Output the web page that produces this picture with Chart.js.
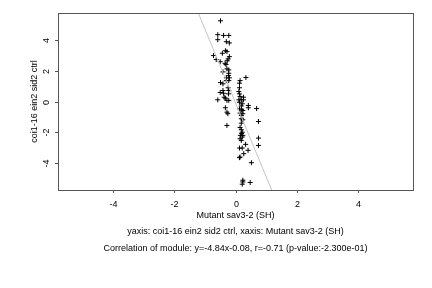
<!DOCTYPE html>
<html>
<head>
<meta charset="utf-8">
<script src="https://cdn.jsdelivr.net/npm/chart.js@4"></script>
<style>
  html, body { margin: 0; padding: 0; background: #fff; }
  #wrap { width: 432px; height: 288px; }
</style>
</head>
<body>
<div id="wrap"><canvas id="chart" width="432" height="288"></canvas></div>
<script>
// 점 데이터
var xValues = [-0.49, -0.58, -0.39, -0.22, -0.58, -0.30, -0.20, -0.33, -0.28, -0.43,
  -0.20, -0.24, -0.72, -0.63, -0.50, -0.34, -0.31, -0.28, -0.22, -0.41,
  -0.22, -0.23, -0.20, -0.30, -0.30, -0.22, -0.49, -0.41, 0.15, 0.13,
  0.34, -0.41, -0.39, -0.24, -0.22, -0.23, 0.13, -0.50, -0.37, -0.33,
  0.13, 0.15, 0.26, 0.11, 0.19, 0.26, -0.58, -0.28, -0.22, 0.13,
  0.22, -0.33, -0.28, -0.25, 0.13, 0.20, 0.24, 0.15, 0.24, 0.19,
  0.42, 0.42, 0.69, 0.75, 0.19, 0.24, 0.19, -0.28, 0.19, 0.22,
  0.16, 0.24, 0.22, 0.15, 0.19, 0.75, 0.75, 0.33, 0.13, 0.22,
  0.41, 0.27, 0.15, 0.13, 0.52, 0.24, 0.24, 0.22, 0.48, -0.27,
  0.11, 0.19, 0.15, 0.20];
var yValues = [5.29, 4.38, 4.33, 4.33, 4.05, 3.92, 3.84, 3.33, 3.27, 3.16,
  2.94, 2.79, 3.01, 2.75, 2.61, 2.50, 2.42, 2.14, 2.07, 1.94,
  1.85, 1.70, 1.55, 1.55, 1.37, 1.37, 1.24, 1.16, 1.37, 1.20,
  1.57, 0.72, 0.54, 0.90, 0.72, 0.50, 0.90, 0.59, 0.28, 0.22,
  0.50, 0.33, 0.28, 0.11, 0.11, 0.11, 0.11, 0.07, 0.07, -0.05,
  -0.15, -0.41, -0.70, -0.80, -0.48, -0.54, -0.59, -0.76, -0.80, -0.92,
  -0.26, -0.41, -0.46, -1.31, -1.13, -1.20, -1.42, -1.57, -1.85, -2.01,
  -2.22, -2.22, -2.33, -2.44, -2.55, -2.40, -2.88, -2.81, -3.05, -3.05,
  -3.20, -3.42, -3.64, -3.68, -4.01, -5.16, -5.27, -5.42, -5.31, 2.67,
  0.65, -0.29, -1.70, -2.09];

var xTicks = [-4, -2, 0, 2, 4];
var yTicks = [-4, -2, 0, 2, 4];
var axisMin = -5.8, axisMax = 5.8;

var slope = -4.84, intercept = -0.08;

var xTitle = 'Mutant sav3-2 (SH)';
var yTitle = 'coi1-16 ein2 sid2 ctrl';
var subTitle1 = 'yaxis: coi1-16 ein2 sid2 ctrl, xaxis: Mutant sav3-2 (SH)';
var subTitle2 = 'Correlation of module: y=-4.84x-0.08, r=-0.71 (p-value:-2.300e-01)';

var points = [];
for (var i = 0; i < xValues.length; i++) {
  points.push({ x: xValues[i], y: yValues[i] });
}
// 회귀선 양 끝
var lineX1 = (axisMax - intercept) / slope;
var lineX2 = (axisMin - intercept) / slope;
var fitLine = [
  { x: lineX1 - 0.1, y: slope * (lineX1 - 0.1) + intercept },
  { x: lineX2 + 0.1, y: slope * (lineX2 + 0.1) + intercept }
];

var FONT = '9px "Liberation Sans", Arial, sans-serif';

var decorPlugin = {
  id: 'decor',
  afterDraw: function(chart) {
    var ctx = chart.ctx;
    var a = chart.chartArea;
    var xs = chart.scales.x, ys = chart.scales.y;
    ctx.save();
    // 박스
    ctx.strokeStyle = '#555';
    ctx.lineWidth = 1;
    ctx.strokeRect(Math.round(a.left) + 0.5, Math.round(a.top) + 0.5,
      Math.round(a.right - a.left), Math.round(a.bottom - a.top));
    ctx.fillStyle = '#000';
    ctx.font = FONT;
    // x축 눈금
    ctx.textAlign = 'center';
    ctx.textBaseline = 'middle';
    xTicks.forEach(function(v) {
      var px = Math.round(xs.getPixelForValue(v)) + 0.5;
      ctx.beginPath();
      ctx.moveTo(px, a.bottom);
      ctx.lineTo(px, a.bottom + 3);
      ctx.stroke();
      ctx.fillText(String(v), px, a.bottom + 15);
    });
    // y축 눈금 (세로 글자)
    yTicks.forEach(function(v) {
      var py = Math.round(ys.getPixelForValue(v)) + 0.5;
      ctx.beginPath();
      ctx.moveTo(a.left, py);
      ctx.lineTo(a.left - 3, py);
      ctx.stroke();
      ctx.save();
      ctx.translate(a.left - 11, py);
      ctx.rotate(-Math.PI / 2);
      ctx.fillText(String(v), 0, 0);
      ctx.restore();
    });
    var cx = (a.left + a.right) / 2;
    ctx.fillText(xTitle, cx, a.bottom + 26);
    ctx.fillText(subTitle1, cx, a.bottom + 42);
    ctx.fillText(subTitle2, cx, a.bottom + 59);
    ctx.save();
    ctx.translate(a.left - 23, (a.top + a.bottom) / 2);
    ctx.rotate(-Math.PI / 2);
    ctx.fillText(yTitle, 0, 0);
    ctx.restore();
    ctx.restore();
  }
};

var myChart = new Chart(document.getElementById('chart'), {
  type: 'scatter',
  data: {
    datasets: [
      {
        type: 'line',
        data: fitLine,
        borderColor: '#c4c4c4',
        borderWidth: 1,
        pointRadius: 0,
        fill: false
      },
      {
        data: points,
        pointStyle: 'cross',
        pointRadius: 2.5,
        borderColor: '#000',
        borderWidth: 1,
        backgroundColor: '#000'
      }
    ]
  },
  options: {
    responsive: false,
    animation: false,
    layout: { padding: { left: 58, top: 13, right: 19, bottom: 98 } },
    plugins: { legend: { display: false }, tooltip: { enabled: false } },
    scales: {
      x: { type: 'linear', min: axisMin, max: axisMax, display: false },
      y: { type: 'linear', min: axisMin, max: axisMax, display: false }
    }
  },
  plugins: [decorPlugin]
});
</script>
</body>
</html>
